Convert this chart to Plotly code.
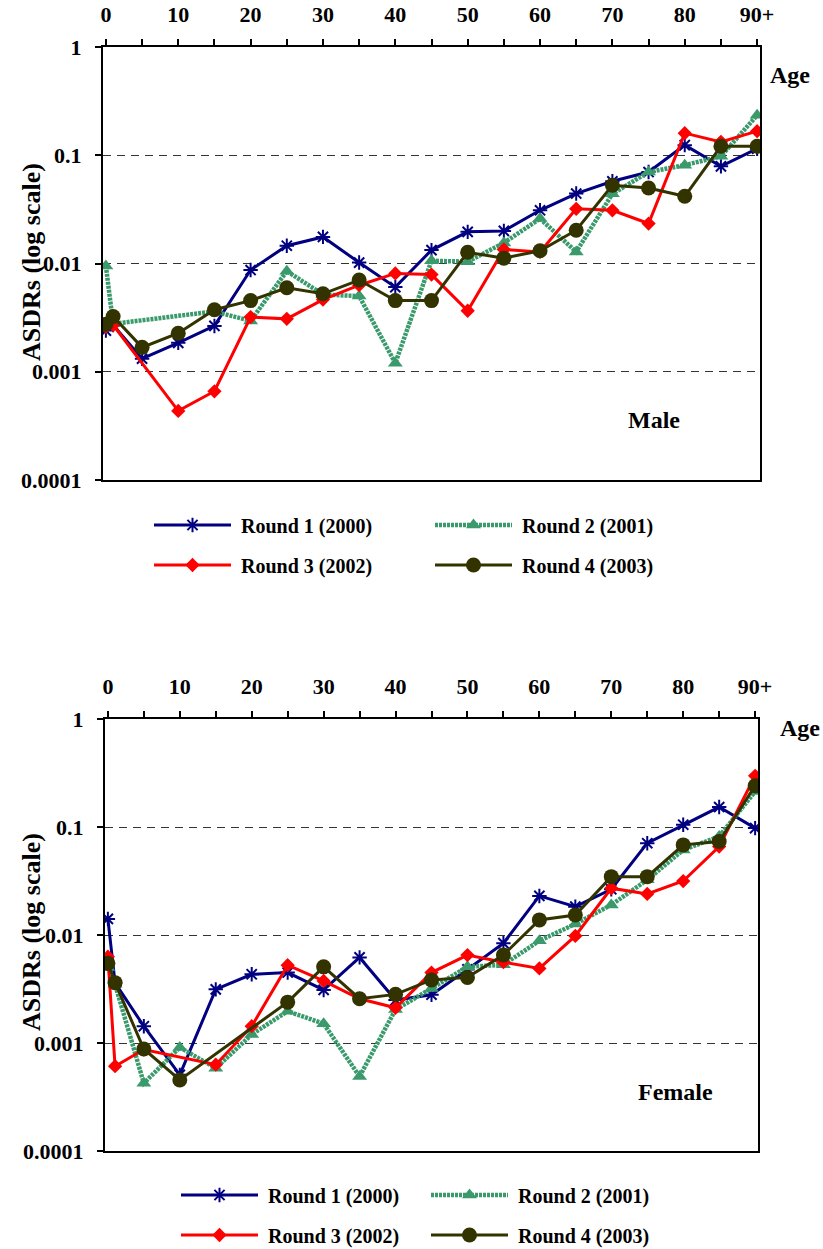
import plotly.graph_objects as go

# ---------------- data ----------------
ages = [0, 1, 5, 10, 15, 20, 25, 30, 35, 40, 45, 50, 55, 60, 65, 70, 75, 80, 85, 90]
x_tickvals = [0, 5, 10, 15, 20, 25, 30, 35, 40, 45, 50, 55, 60, 65, 70, 75, 80, 85, 90]
x_ticktext = ["0", "", "10", "", "20", "", "30", "", "40", "", "50", "", "60", "", "70", "", "80", "", "90+"]
y_tickvals = [1, 0.1, 0.01, 0.001, 0.0001]
y_ticktext = ["1", "0.1", "0.01", "0.001", "0.0001"]

series_names = ["Round 1 (2000)", "Round 2 (2001)", "Round 3 (2002)", "Round 4 (2003)"]

male_r1 = [0.0024, 0.0027, 0.00132, 0.00185, 0.00265, 0.0087, 0.0146, 0.0176, 0.0102, 0.00605,
           0.0133, 0.0196, 0.0200, 0.031, 0.0443, 0.0575, 0.070, 0.124, 0.079, 0.115]
male_r2 = [0.0095, 0.00277, None, None, 0.00361, 0.00295, 0.0085, 0.00517, 0.0050, 0.0012,
           0.0106, 0.0104, 0.0155, 0.026, 0.0128, 0.044, 0.070, 0.081, 0.098, 0.234]
male_r3 = [0.0026, 0.0027, None, 0.000435, 0.00066, 0.0032, 0.00308, 0.00464, 0.0063, 0.0081,
           0.0079, 0.00366, 0.0135, 0.0128, 0.032, 0.031, 0.0234, 0.160, 0.133, 0.167]
male_r4 = [0.00275, 0.00324, 0.00168, 0.00227, 0.00374, 0.00454, 0.00597, 0.00525, 0.00703, 0.00454,
           0.00454, 0.0127, 0.0112, 0.0131, 0.0203, 0.0528, 0.0499, 0.0418, 0.121, 0.121]

female_r1 = [0.0141, 0.0036, 0.00143, 0.000507, 0.00314, 0.00433, 0.00449, 0.0031, 0.0062, 0.0025,
             0.0028, 0.0048, 0.0084, 0.023, 0.0183, 0.0265, 0.0708, 0.105, 0.153, 0.0977]
female_r2 = [0.0050, 0.0035, 0.000424, 0.00091, 0.000585, 0.0012, 0.00197, 0.00151, 0.00049, 0.00204,
             0.0032, 0.00508, 0.0053, 0.00885, 0.01265, 0.019, 0.0324, 0.0614, 0.0817, 0.213]
female_r3 = [0.0063, 0.00061, 0.00087, None, 0.00063, 0.00143, 0.00525, 0.00376, 0.00257, 0.00212,
             0.00449, 0.00652, 0.0056, 0.0049, 0.0098, 0.0271, 0.024, 0.0316, 0.0659, 0.298]
female_r4 = [0.00548, 0.00362, 0.00088, 0.000455, None, None, 0.00239, 0.00507, 0.00257, 0.00282,
             0.00384, 0.00405, 0.00653, 0.0138, 0.0153, 0.0347, 0.0347, 0.0683, 0.0733, 0.241]

# ---------------- styles ----------------
FONT = "Liberation Serif"
styles = [
    dict(line=dict(color="#000080", width=3),
         marker=dict(symbol="asterisk-open", size=12, color="#000080", line=dict(color="#000080", width=2))),
    dict(line=dict(color="#3a9a6c", width=4.5, dash="3px,1px"),
         marker=dict(symbol="triangle-up", size=13, color="#3a9a6c")),
    dict(line=dict(color="#ff0000", width=3),
         marker=dict(symbol="diamond", size=11, color="#ff0000")),
    dict(line=dict(color="#333300", width=3),
         marker=dict(symbol="circle", size=15, color="#333300")),
]

fig = go.Figure()

panels = [
    dict(data=[male_r1, male_r2, male_r3, male_r4], xa="x", ya="y", legends=["legend", "legend2", "legend3", "legend4"]),
    dict(data=[female_r1, female_r2, female_r3, female_r4], xa="x2", ya="y2", legends=["legend5", "legend6", "legend7", "legend8"]),
]
for p in panels:
    for i, vals in enumerate(p["data"]):
        fig.add_trace(go.Scatter(
            x=ages, y=vals, mode="lines+markers", name="\u00a0" + series_names[i],
            xaxis=p["xa"], yaxis=p["ya"], legend=p["legends"][i], connectgaps=True,
            showlegend=True, **styles[i]))

W, H = 823, 1249

def px_x(v):
    return v / W

def px_y(v):
    return 1 - v / H

def bfont(size):
    return dict(family=FONT, size=size, color="black", weight="bold")

axis_x = dict(
    type="linear", range=[-0.4, 90.4], side="top", automargin=False,
    tickmode="array", tickvals=x_tickvals, ticktext=x_ticktext,
    ticks="outside", ticklen=6, tickwidth=1.5, tickcolor="black",
    showline=True, linecolor="black", linewidth=2, mirror=True,
    showgrid=False, zeroline=False, ticklabelstandoff=8,
    tickfont=bfont(22),
)
axis_y = dict(
    type="log", range=[-4, 0], automargin=False,
    tickmode="array", tickvals=y_tickvals, ticktext=y_ticktext,
    ticks="outside", ticklen=6, tickwidth=1.5, tickcolor="black",
    showline=True, linecolor="black", linewidth=2, mirror=True,
    showgrid=True, gridcolor="#333333", gridwidth=1, griddash="8px,6px",
    zeroline=False, ticklabelstandoff=9,
    tickfont=bfont(22),
)

fig.update_layout(
    width=W, height=H, margin=dict(l=0, r=0, t=0, b=0, autoexpand=False),
    paper_bgcolor="white", plot_bgcolor="white", showlegend=True,
    xaxis=dict(domain=[px_x(103), px_x(760)], anchor="y", **axis_x),
    yaxis=dict(domain=[px_y(480), px_y(47)], anchor="x", **axis_y),
    xaxis2=dict(domain=[px_x(105), px_x(758)], anchor="y2", **axis_x),
    yaxis2=dict(domain=[px_y(1151), px_y(719)], anchor="x2", **axis_y),
)

legend_pos = [
    (149, 525), (430, 525), (149, 565), (430, 565),
    (176, 1195), (426, 1195), (176, 1235), (426, 1235),
]
for k, (lx, ly) in enumerate(legend_pos):
    key = "legend" if k == 0 else f"legend{k + 1}"
    fig.layout[key] = dict(
        x=px_x(lx), y=px_y(ly), xanchor="left", yanchor="middle",
        font=bfont(20), bgcolor="rgba(0,0,0,0)", borderwidth=0,
        itemwidth=77, tracegroupgap=0, visible=True,
    )

annotations = [
    dict(text="Age", x=px_x(790), y=px_y(75)),
    dict(text="Male", x=px_x(654), y=px_y(420)),
    dict(text="Age", x=px_x(800), y=px_y(728)),
    dict(text="Female", x=px_x(675), y=px_y(1092)),
]
for a in annotations:
    fig.add_annotation(xref="paper", yref="paper", showarrow=False,
                       xanchor="center", yanchor="middle", font=bfont(24), **a)
for yc in (262, 932):
    fig.add_annotation(text="ASDRs (log scale)", xref="paper", yref="paper",
                       x=px_x(31), y=px_y(yc), textangle=-90, showarrow=False,
                       xanchor="center", yanchor="middle", font=bfont(26))

fig.write_html("out.html")
